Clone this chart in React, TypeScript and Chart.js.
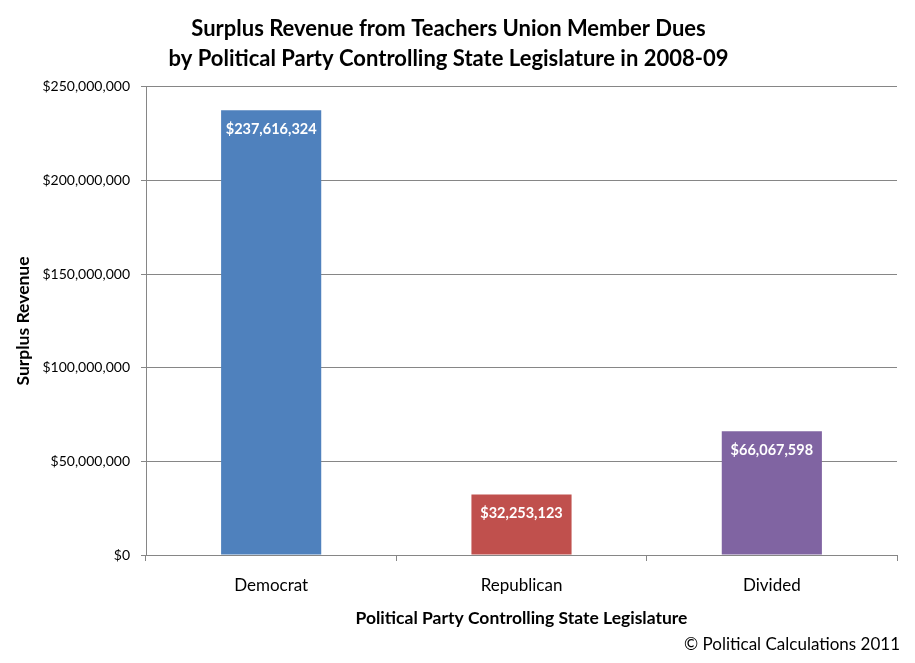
import React, { useEffect, useRef } from "react";
import { Chart, registerables } from "chart.js";

Chart.register(...registerables);

const categories = ["Democrat", "Republican", "Divided"];
const surplusValues = [237616324, 32253123, 66067598];
const barColors = ["#4F81BD", "#C0504D", "#8064A2"];
const yTickStep = 50000000;
const yMax = 250000000;
const titleLines = [
  "Surplus Revenue from Teachers Union Member Dues",
  "by Political Party Controlling State Legislature in 2008-09",
];
const xAxisTitle = "Political Party Controlling State Legislature";
const yAxisTitle = "Surplus Revenue";
const creditText = "© Political Calculations 2011";

const FONT = "Lato, 'Open Sans', 'Noto Sans', sans-serif";

const fmt = (v: number) => "$" + Math.round(v).toLocaleString("en-US");

const extrasPlugin = {
  id: "extras",
  afterDatasetsDraw(chart: any) {
    const ctx = chart.ctx;
    const meta = chart.getDatasetMeta(0);
    ctx.save();
    ctx.font = `bold 14.5px ${FONT}`;
    ctx.fillStyle = "#ffffff";
    ctx.textAlign = "center";
    ctx.textBaseline = "middle";
    meta.data.forEach((bar: any, i: number) => {
      ctx.fillText(fmt(surplusValues[i]), bar.x, bar.y + 19);
    });
    ctx.restore();
  },
  afterDraw(chart: any) {
    const ctx = chart.ctx;
    ctx.save();
    ctx.font = `17px ${FONT}`;
    ctx.fillStyle = "#000000";
    ctx.textAlign = "right";
    ctx.textBaseline = "middle";
    ctx.fillText(creditText, 900, 645);
    ctx.restore();
  },
};

export default function App() {
  const canvasRef = useRef<HTMLCanvasElement | null>(null);

  useEffect(() => {
    if (!canvasRef.current) return;
    const chart = new Chart(canvasRef.current, {
      type: "bar",
      data: {
        labels: categories,
        datasets: [
          {
            data: surplusValues,
            backgroundColor: barColors,
            borderWidth: 0,
            barPercentage: 0.4,
            categoryPercentage: 1,
          },
        ],
      },
      options: {
        animation: false,
        responsive: false,
        maintainAspectRatio: false,
        layout: { padding: { top: 0, left: 0, right: 18, bottom: 28 } },
        plugins: {
          legend: { display: false },
          tooltip: { enabled: false },
          title: {
            display: true,
            text: titleLines,
            color: "#000000",
            font: { family: FONT, size: 22, weight: "bold", lineHeight: 1.37 },
            padding: { top: 14, bottom: 12.7 },
          },
        },
        scales: {
          x: {
            afterFit(scale: any) {
              scale.height = 80;
            },
            grid: {
              drawOnChartArea: false,
              drawTicks: true,
              tickLength: 6,
              color: "#868686",
              offset: true,
            },
            border: { color: "#868686", width: 1 },
            ticks: {
              color: "#000000",
              font: { family: FONT, size: 17 },
              padding: 14,
            },
            title: {
              display: true,
              text: xAxisTitle,
              color: "#000000",
              font: { family: FONT, size: 17.5, weight: "bold" },
              padding: { top: 0, bottom: 6.5 },
            },
          },
          y: {
            min: 0,
            max: yMax,
            afterFit(scale: any) {
              scale.width = 146;
            },
            grid: {
              color: "#868686",
              tickLength: 5,
              drawTicks: true,
            },
            border: { color: "#868686", width: 1 },
            ticks: {
              stepSize: yTickStep,
              color: "#000000",
              font: { family: FONT, size: 14 },
              padding: 11,
              callback: (v: any) => fmt(Number(v)),
            },
            title: {
              display: true,
              text: yAxisTitle,
              color: "#000000",
              font: { family: FONT, size: 17.5, weight: "bold" },
              padding: { top: 12.5, bottom: 0 },
            },
          },
        },
      },
      plugins: [extrasPlugin],
    });
    return () => chart.destroy();
  }, []);

  return (
    <div style={{ position: "fixed", left: 0, top: 0, width: 915, height: 663, background: "#ffffff" }}>
      <canvas ref={canvasRef} width={915} height={663} style={{ width: 915, height: 663, display: "block" }} />
    </div>
  );
}
